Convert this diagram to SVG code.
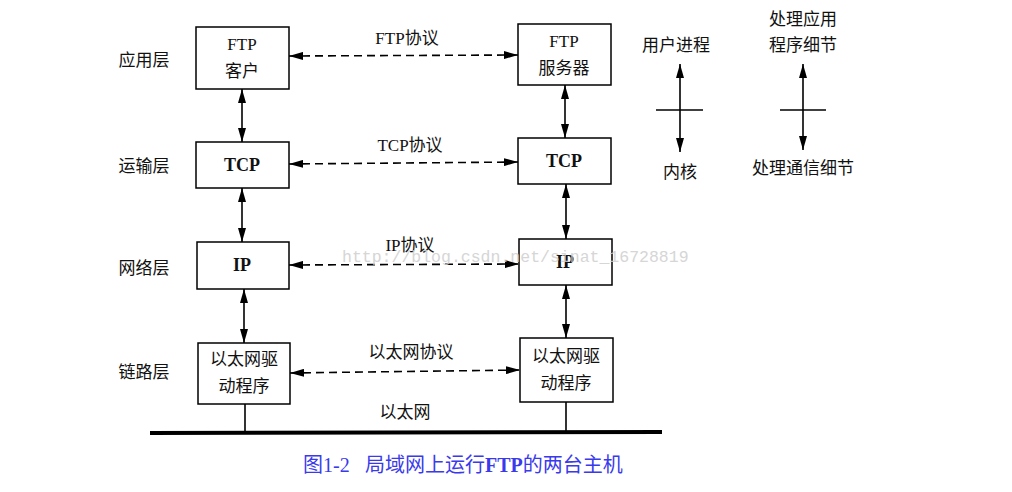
<svg xmlns="http://www.w3.org/2000/svg" width="1012" height="492" viewBox="0 0 1012 492">
<style>
.box{fill:#fff;stroke:#000;stroke-width:1.5}
.t{font-family:"Liberation Serif","Noto Sans CJK SC",serif;font-size:17px;fill:#111;text-anchor:middle}
.b{font-weight:bold;font-size:18px}
.ln{stroke:#000;stroke-width:1.6;fill:none}
.dash{stroke:#000;stroke-width:1.6;fill:none;stroke-dasharray:8 5}
</style>
<defs>
<marker id="ah" viewBox="0 0 14 8" refX="14" refY="4" markerWidth="14" markerHeight="8" markerUnits="userSpaceOnUse" orient="auto-start-reverse">
<path d="M0,0 L14,4 L0,8 Z" fill="#000"/>
</marker>
</defs>
<rect width="1012" height="492" fill="#fff"/>
<g id="layer-labels">
<text class="t" x="144" y="66">应用层</text>
<text class="t" x="144" y="172">运输层</text>
<text class="t" x="144" y="274">网络层</text>
<text class="t" x="144" y="378">链路层</text>
</g>
<g id="ftp-client"><rect class="box" x="196" y="27" width="93" height="62"/><text class="t" x="242" y="50">FTP</text><text class="t" x="242" y="77">客户</text></g>
<g id="tcp-left"><rect class="box" x="196" y="142" width="93" height="46"/><text class="t b" x="242" y="171">TCP</text></g>
<g id="ip-left"><rect class="box" x="197" y="242" width="92" height="47"/><text class="t b" x="242" y="271">IP</text></g>
<g id="eth-left"><rect class="box" x="198" y="343" width="92" height="61"/><text class="t" x="244" y="365">以太网驱</text><text class="t" x="244" y="392">动程序</text></g>
<g id="ftp-server"><rect class="box" x="518" y="24" width="93" height="61"/><text class="t" x="564" y="47">FTP</text><text class="t" x="564" y="74">服务器</text></g>
<g id="tcp-right"><rect class="box" x="518" y="138" width="93" height="46"/><text class="t b" x="564" y="167">TCP</text></g>
<g id="ip-right"><rect class="box" x="519" y="239" width="93" height="46"/><text class="t b" x="565" y="268">IP</text></g>
<g id="eth-right"><rect class="box" x="520" y="338" width="93" height="64"/><text class="t" x="566" y="362">以太网驱</text><text class="t" x="566" y="389">动程序</text></g>
<g id="connectors">
<line class="ln" x1="242" y1="89" x2="242" y2="142" marker-start="url(#ah)" marker-end="url(#ah)"/>
<line class="ln" x1="242" y1="188" x2="242" y2="242" marker-start="url(#ah)" marker-end="url(#ah)"/>
<line class="ln" x1="244" y1="289" x2="244" y2="343" marker-start="url(#ah)" marker-end="url(#ah)"/>
<line class="ln" x1="565" y1="85" x2="565" y2="138" marker-start="url(#ah)" marker-end="url(#ah)"/>
<line class="ln" x1="566" y1="184" x2="566" y2="239" marker-start="url(#ah)" marker-end="url(#ah)"/>
<line class="ln" x1="566" y1="285" x2="566" y2="338" marker-start="url(#ah)" marker-end="url(#ah)"/>
<line class="dash" x1="289" y1="56" x2="518" y2="55" marker-start="url(#ah)" marker-end="url(#ah)"/>
<line class="dash" x1="289" y1="164" x2="518" y2="162" marker-start="url(#ah)" marker-end="url(#ah)"/>
<line class="dash" x1="289" y1="265" x2="519" y2="264" marker-start="url(#ah)" marker-end="url(#ah)"/>
<line class="dash" x1="290" y1="373" x2="520" y2="370" marker-start="url(#ah)" marker-end="url(#ah)"/>
<line class="ln" x1="245" y1="404" x2="245" y2="433"/>
<line class="ln" x1="566" y1="402" x2="566" y2="433"/>
<line x1="150" y1="433" x2="662" y2="432" stroke="#000" stroke-width="4"/>
<line class="ln" x1="680" y1="64" x2="680" y2="152" stroke-width="2" marker-start="url(#ah)" marker-end="url(#ah)"/>
<line class="ln" x1="656" y1="110" x2="703" y2="110"/>
<line class="ln" x1="803" y1="64" x2="803" y2="150" stroke-width="2" marker-start="url(#ah)" marker-end="url(#ah)"/>
<line class="ln" x1="780" y1="110" x2="826" y2="110"/>
</g>
<g id="labels">
<text class="t" x="407" y="44">FTP协议</text>
<text class="t" x="410" y="151">TCP协议</text>
<text class="t" x="410" y="251">IP协议</text>
<text class="t" x="411" y="358">以太网协议</text>
<text class="t" x="405" y="418">以太网</text>
<text class="t" x="676" y="51">用户进程</text>
<text class="t" x="680" y="178">内核</text>
<text class="t" x="803" y="25">处理应用</text>
<text class="t" x="803" y="51">程序细节</text>
<text class="t" x="803" y="174">处理通信细节</text>
</g>
<g id="caption" font-family="Liberation Serif, Noto Sans CJK SC, serif" font-size="20" fill="#3a3aec">
<text x="303" y="472">图1-2</text>
<text x="365" y="472">局域网上运行<tspan font-weight="bold">FTP</tspan>的两台主机</text>
</g>
<text x="342" y="262" font-family="Liberation Mono, monospace" font-size="16.5" fill="#cfcfcf" opacity="0.85">http://blog.csdn.net/sinat_16728819</text>
</svg>
